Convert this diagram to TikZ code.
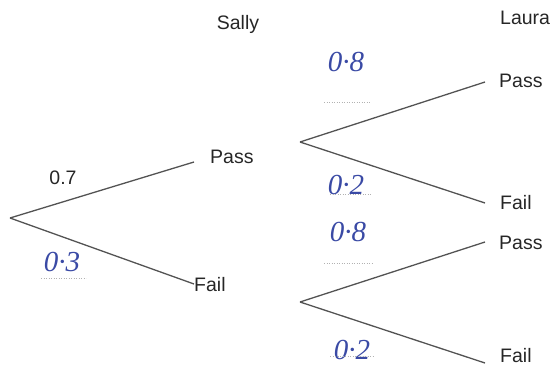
\documentclass[tikz,border=0pt]{standalone}
\usepackage{fontspec}
\setmainfont{Liberation Sans}
\newfontfamily\handfont{Liberation Serif}
\definecolor{inkblue}{RGB}{58,74,165}
\begin{document}
\begin{tikzpicture}[x=1pt,y=-1pt]
% Two-stage tree diagram. Coordinates are read off a 550x372 sheet,
% y counted downwards from the top edge.
\useasboundingbox (0,0) rectangle (550,372);

\tikzset{
  branch/.style={gray!65!black,line width=1.3pt},
  lab/.style={font=\fontsize{19.5}{22}\selectfont,text=black!85,inner sep=0pt},
  hand/.style={font=\handfont\itshape\fontsize{29}{32}\selectfont,text=inkblue,inner sep=0pt},
  pencil/.style={gray!60,line width=0.5pt,dotted}
}

% Column headings.
\node[lab] (sally) at (238,24) {Sally};
\node[lab,anchor=west] (laura) at (500,18) {Laura};

% Branch points and ends.
\coordinate (o) at (10,218);
\coordinate (sp) at (194,162);
\coordinate (sf) at (194,284);
\coordinate (pr) at (300,142);
\coordinate (fr) at (300,302);
\coordinate (pp) at (485,82);
\coordinate (pf) at (485,203);
\coordinate (fp) at (485,242);
\coordinate (ff) at (485,363);

% Sally's branches.
\draw[branch] (o) -- (sp);
\draw[branch] (o) -- (sf);
\node[lab,anchor=west] (spl) at (210,157) {Pass};
\node[lab,anchor=west] (sfl) at (194,285) {Fail};
\node[lab] (p7) at (63,178) {0.7};
\node[hand] (p3) at (62,262) {0·3};
\draw[pencil] (41,278) -- (86,278);

% Laura after a pass.
\draw[branch] (pr) -- (pp);
\draw[branch] (pr) -- (pf);
\node[lab,anchor=west] (ppl) at (499,81) {Pass};
\node[lab,anchor=west] (pfl) at (500,203) {Fail};
\node[hand] (q8) at (346,62) {0·8};
\draw[pencil] (324,102) -- (371,102);
\node[hand] (q2) at (346,185) {0·2};
\draw[pencil] (330,194) -- (372,194);

% Laura after a fail.
\draw[branch] (fr) -- (fp);
\draw[branch] (fr) -- (ff);
\node[lab,anchor=west] (fpl) at (499,243) {Pass};
\node[lab,anchor=west] (ffl) at (500,356) {Fail};
\node[hand] (r8) at (348,232) {0·8};
\draw[pencil] (324,263) -- (372,263);
\node[hand] (r2) at (352,350) {0·2};
\draw[pencil] (330,356) -- (374,356);
\end{tikzpicture}
\end{document}
